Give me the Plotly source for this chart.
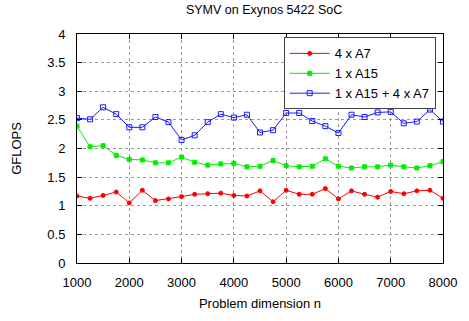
import plotly.graph_objects as go

n = [1000, 1250, 1500, 1750, 2000, 2250, 2500, 2750, 3000, 3250, 3500, 3750, 4000, 4250,
     4500, 4750, 5000, 5250, 5500, 5750, 6000, 6250, 6500, 6750, 7000, 7250, 7500, 7750, 8000]

a7 = [1.17, 1.13, 1.18, 1.24, 1.05, 1.27, 1.09, 1.12, 1.16, 1.20, 1.21, 1.22, 1.18, 1.17,
      1.26, 1.07, 1.27, 1.20, 1.20, 1.30, 1.12, 1.26, 1.20, 1.15, 1.25, 1.21, 1.26, 1.27, 1.13]

a15 = [2.39, 2.03, 2.05, 1.88, 1.81, 1.80, 1.75, 1.75, 1.85, 1.76, 1.71, 1.73, 1.74, 1.68,
       1.69, 1.79, 1.70, 1.68, 1.69, 1.82, 1.69, 1.66, 1.68, 1.68, 1.71, 1.68, 1.66, 1.70, 1.77]

both = [2.53, 2.51, 2.72, 2.60, 2.37, 2.37, 2.55, 2.46, 2.15, 2.23, 2.46, 2.60, 2.54, 2.59,
        2.28, 2.32, 2.62, 2.62, 2.48, 2.39, 2.27, 2.59, 2.55, 2.63, 2.64, 2.44, 2.47, 2.68, 2.47]

names = ["4 x A7", "1 x A15", "1 x A15 + 4 x A7"]
colors = ["#ff0000", "#00ee00", "#1a1aff"]
symbols = ["circle", "square", "square-open"]
sizes = [4, 4, 5]

fig = go.Figure()
for y, nm, c, s, sz in zip([a7, a15, both], names, colors, symbols, sizes):
    fig.add_trace(go.Scatter(x=n, y=y, name=nm, mode="lines+markers",
                             line=dict(color=c, width=1),
                             marker=dict(color=c, symbol=s, size=sz, line=dict(color=c, width=1))))

FAM = "Liberation Sans, Arial, sans-serif"
font = dict(family=FAM, size=13, color="#000")
axis_common = dict(showline=True, linecolor="#000", linewidth=1, mirror="ticks",
                   ticks="inside", ticklen=5, tickcolor="#000",
                   showgrid=True, gridcolor="#999", griddash="dot", gridwidth=1,
                   zeroline=False, tickfont=font)

fig.update_layout(
    width=469, height=321,
    margin=dict(l=77, r=19, t=34, b=52),
    paper_bgcolor="#fff", plot_bgcolor="#fff",
    font=font,
    title=dict(text="SYMV on Exynos 5422 SoC", x=0.563, xanchor="center", y=0.983, yanchor="top",
               font=dict(family=FAM, size=12.5)),
    xaxis=dict(range=[1000, 8000], dtick=1000, ticklabelstandoff=7,
               title=dict(text="Problem dimension n", font=font, standoff=10),
               **axis_common),
    yaxis=dict(range=[0, 4], dtick=0.5, ticklabelstandoff=8,
               title=dict(text="GFLOPS", font=font, standoff=22),
               **axis_common),
    legend=dict(x=0.98, y=0.985, xanchor="right", yanchor="top", bordercolor="#444", borderwidth=1,
                bgcolor="#fff", font=font, tracegroupgap=0, itemwidth=40),
    showlegend=True,
)

fig.write_html("out.html")
